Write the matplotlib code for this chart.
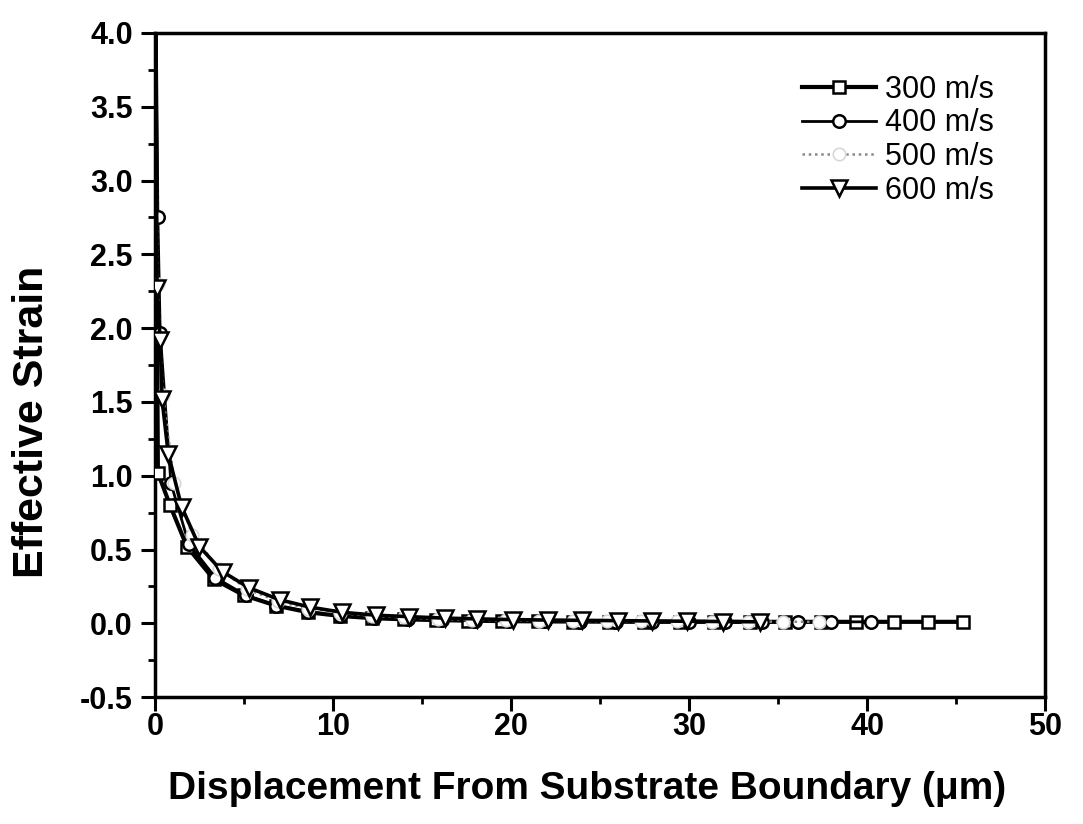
import matplotlib
matplotlib.use("Agg")
import matplotlib.pyplot as plt
from matplotlib.ticker import MultipleLocator

# ---- data ----
x300 = [0, 0.17, 0.85, 1.8, 3.3, 5.0, 6.8, 8.6, 10.4, 12.2, 14.0, 15.8, 17.6, 19.5, 21.5,
        23.5, 25.5, 27.5, 29.5, 31.4, 33.4, 35.4, 37.4, 39.4, 41.5, 43.4, 45.4]
y300 = [4.8, 1.02, 0.80, 0.52, 0.30, 0.19, 0.12, 0.075, 0.05, 0.035, 0.027, 0.022, 0.018,
        0.015, 0.013, 0.012, 0.011, 0.01, 0.01, 0.01, 0.01, 0.01, 0.01, 0.01, 0.01, 0.01, 0.01]

x400 = [0, 0.17, 0.3, 0.9, 1.9, 3.4, 5.1, 6.8, 8.6, 10.4, 12.3, 14.2, 16.1, 18.0, 19.9,
        21.9, 23.9, 25.9, 27.9, 30.0, 32.0, 34.1, 36.1, 38.0, 40.2]
y400 = [5.2, 2.75, 1.97, 0.95, 0.54, 0.31, 0.19, 0.12, 0.08, 0.05, 0.035, 0.027, 0.022,
        0.018, 0.015, 0.013, 0.012, 0.011, 0.01, 0.01, 0.01, 0.01, 0.01, 0.01, 0.01]

x500 = [0, 0.15, 0.45, 1.1, 2.1, 3.6, 5.2, 6.9, 8.6, 10.4, 12.2, 14.0, 15.9, 17.8, 19.7,
        21.6, 23.5, 25.4, 27.3, 29.3, 31.3, 33.3, 35.3, 37.3]
y500 = [5.0, 2.3, 1.55, 0.95, 0.6, 0.37, 0.23, 0.15, 0.1, 0.07, 0.05, 0.04, 0.03, 0.025,
        0.02, 0.018, 0.016, 0.015, 0.014, 0.013, 0.012, 0.012, 0.011, 0.01]

x600 = [0, 0.12, 0.3, 0.4, 0.75, 1.5, 2.5, 3.8, 5.3, 7.0, 8.7, 10.5, 12.4, 14.3, 16.3,
        18.1, 20.1, 22.1, 24.0, 26.0, 27.9, 29.9, 31.9, 34.0]
y600 = [5.5, 2.27, 1.92, 1.52, 1.15, 0.79, 0.52, 0.35, 0.24, 0.16, 0.11, 0.075, 0.055,
        0.045, 0.035, 0.03, 0.025, 0.022, 0.02, 0.018, 0.016, 0.014, 0.012, 0.01]

labels = ["300 m/s", "400 m/s", "500 m/s", "600 m/s"]
xticks = [0, 10, 20, 30, 40, 50]
yticks = [-0.5, 0.0, 0.5, 1.0, 1.5, 2.0, 2.5, 3.0, 3.5, 4.0]
xlabel = "Displacement From Substrate Boundary (\u03bcm)"
ylabel = "Effective Strain"

fig = plt.figure(figsize=(10.83, 8.24), dpi=100)
ax = fig.add_axes([0.143, 0.154, 0.822, 0.806])

ax.plot(x300, y300, color="black", lw=3.0, marker="s", ms=9, mfc="white", mec="black",
        mew=1.8, label=labels[0], zorder=3)
ax.plot(x400, y400, color="black", lw=2.0, marker="o", ms=9, mfc="white", mec="black",
        mew=1.8, label=labels[1], zorder=4)
ax.plot(x500, y500, color="#888888", lw=1.8, ls=(0, (1, 1.5)), marker="o", ms=9,
        mfc="white", mec="#d8d8d8", mew=1.2, label=labels[2], zorder=5)
ax.plot(x600, y600, color="black", lw=2.6, marker="v", ms=12, mfc="white", mec="black",
        mew=1.8, label=labels[3], zorder=6)

ax.set_xlim(0, 50)
ax.set_ylim(-0.5, 4.0)
ax.xaxis.set_minor_locator(MultipleLocator(5))
ax.yaxis.set_minor_locator(MultipleLocator(0.25))

for s in ax.spines.values():
    s.set_linewidth(2.5)
ax.tick_params(which="major", direction="out", length=10, width=2.2, top=False, right=False)
ax.tick_params(which="minor", direction="out", length=5, width=2.0, top=False, right=False)

fam = ["Liberation Sans", "DejaVu Sans"]

ax.set_xticks(xticks)
ax.set_xticklabels([str(v) for v in xticks], family=fam, fontweight="bold", fontsize=22)
ax.set_yticks(yticks)
ax.set_yticklabels([f"{v:.1f}" for v in yticks], family=fam, fontweight="bold", fontsize=22)
ax.tick_params(axis="x", pad=1)
ax.tick_params(axis="y", pad=6)

ax.set_xlabel(xlabel, family=fam, fontweight="bold", fontsize=28)
ax.xaxis.set_label_coords(0.485, -0.112)
ax.set_ylabel(ylabel, family=fam, fontweight="bold", fontsize=31)
ax.yaxis.set_label_coords(-0.116, 0.414)

leg = ax.legend(loc="upper right", bbox_to_anchor=(0.963, 0.965), frameon=False,
                prop={"family": fam, "size": 22}, handlelength=2.4, handletextpad=0.3,
                labelspacing=0.12, borderaxespad=0.2)

fig.savefig("out.png", dpi=100)
